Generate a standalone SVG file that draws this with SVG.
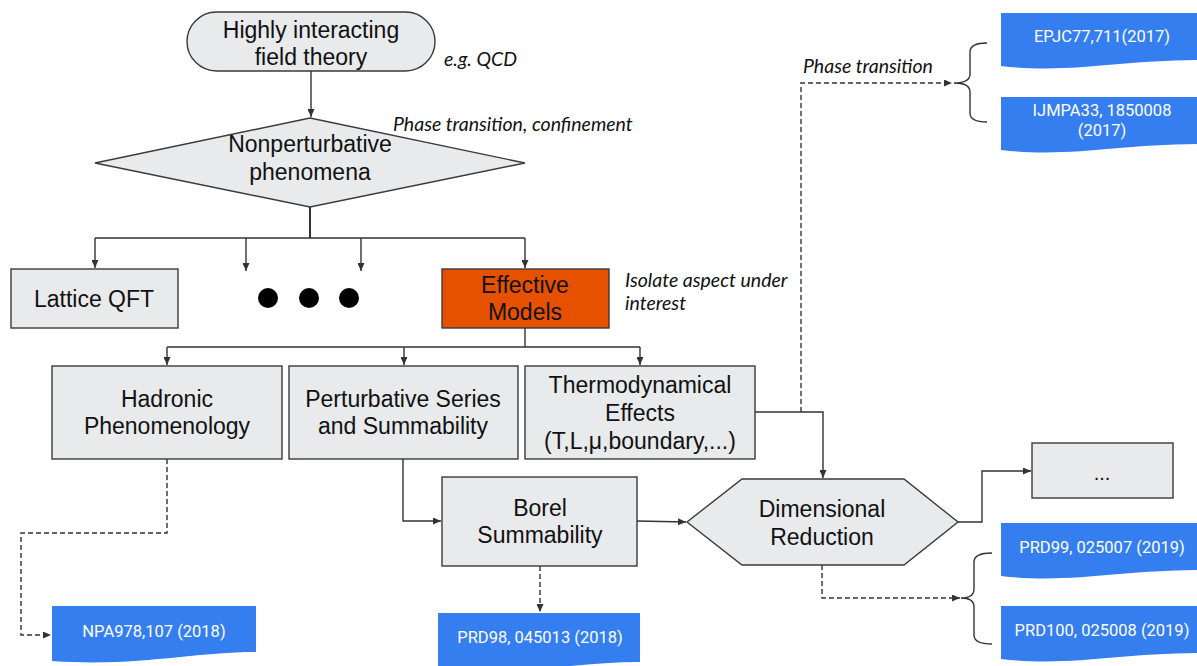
<svg xmlns="http://www.w3.org/2000/svg" width="1197" height="666" viewBox="0 0 1197 666">
<style>
.box{fill:#e8eaec;stroke:#3a3a3a;stroke-width:1.4}
.orange{fill:#e65100;stroke:#3a3a3a;stroke-width:1.4}
.doc{fill:#357ef0;stroke:none}
.lbl{font-family:"Liberation Sans",Arial,sans-serif;font-size:23px;fill:#111;text-anchor:middle}
.ref{font-family:Roboto,"Liberation Sans",sans-serif;font-size:16.5px;fill:#ffffff;text-anchor:middle}
.note{font-family:Lato,"Open Sans",sans-serif;font-style:italic;font-size:19.5px;fill:#111}
.ln{fill:none;stroke:#333;stroke-width:1.4}
.dash{fill:none;stroke:#333;stroke-width:1.4;stroke-dasharray:5 3}
.brace{fill:none;stroke:#333;stroke-width:1.4}
</style>
<defs>
<marker id="ah" markerUnits="userSpaceOnUse" markerWidth="9" markerHeight="7" refX="8" refY="3.5" orient="auto">
<path d="M0,0 L8,3.5 L0,7 z" fill="#333"/>
</marker>
</defs>

<g id="connectors">
<path class="ln" d="M311,71 V117" marker-end="url(#ah)"/>
<path class="ln" d="M310,207 V238" style="stroke-width:2"/>
<path class="ln" d="M95,238 H525"/>
<path class="ln" d="M95,238 V268" marker-end="url(#ah)"/>
<path class="ln" d="M246,238 V271" marker-end="url(#ah)"/>
<path class="ln" d="M361,238 V271" marker-end="url(#ah)"/>
<path class="ln" d="M525,238 V268" marker-end="url(#ah)"/>
<path class="ln" d="M525,328 V347"/>
<path class="ln" d="M167,347 H640"/>
<path class="ln" d="M167,347 V365" marker-end="url(#ah)"/>
<path class="ln" d="M404,347 V365" marker-end="url(#ah)"/>
<path class="ln" d="M640,347 V365" marker-end="url(#ah)"/>
<path class="ln" d="M755,412 H823 V478" marker-end="url(#ah)"/>
<path class="dash" d="M801,412 V83 H952" marker-end="url(#ah)"/>
<path class="ln" d="M403,459 V521 H441" marker-end="url(#ah)"/>
<path class="ln" d="M637,521 L686,522" marker-end="url(#ah)"/>
<path class="ln" d="M958,522 H982 V471 H1031" marker-end="url(#ah)"/>
<path class="dash" d="M822,565 V598 H960" marker-end="url(#ah)"/>
<path class="dash" d="M540,566 V612" marker-end="url(#ah)"/>
<path class="dash" d="M167,459 V533 H21 V635 H51" marker-end="url(#ah)"/>
<path class="brace" d="M987,43 Q970,43 970,52 V74 Q970,83 954,83 Q970,83 970,92 V113 Q970,122 987,122"/>
<path class="brace" d="M992,553 Q974,553 974,562 V589 Q974,598 961,598 Q974,598 974,607 V635 Q974,644 992,644"/>
</g>

<g id="n-highly">
<rect class="box" x="187" y="12" width="248" height="59" rx="29.5"/>
<text class="lbl" x="311" y="38">Highly interacting</text>
<text class="lbl" x="311" y="65">field theory</text>
</g>
<g id="note-qcd"><text class="note" x="444" y="66">e.g. QCD</text></g>

<g id="n-nonpert">
<polygon class="box" points="310,118 525,163 310,207 95,163"/>
<text class="lbl" x="310" y="152">Nonperturbative</text>
<text class="lbl" x="310" y="180">phenomena</text>
</g>
<g id="note-phase"><text class="note" x="393" y="131">Phase transition, confinement</text></g>

<g id="n-lattice">
<rect class="box" x="11" y="269" width="167" height="59"/>
<text class="lbl" x="94" y="307">Lattice QFT</text>
</g>

<g id="n-dots">
<circle cx="268" cy="298" r="10" fill="#000"/>
<circle cx="309" cy="298" r="10" fill="#000"/>
<circle cx="349" cy="298" r="10" fill="#000"/>
</g>

<g id="n-effective">
<rect class="orange" x="442" y="269" width="167" height="59"/>
<text class="lbl" x="525" y="293">Effective</text>
<text class="lbl" x="525" y="320">Models</text>
</g>
<g id="note-isolate">
<text class="note" x="625" y="287">Isolate aspect under</text>
<text class="note" x="625" y="310">interest</text>
</g>

<g id="n-hadronic">
<rect class="box" x="52" y="366" width="230" height="93"/>
<text class="lbl" x="167" y="407">Hadronic</text>
<text class="lbl" x="167" y="434">Phenomenology</text>
</g>

<g id="n-perturbative">
<rect class="box" x="289" y="366" width="229" height="93"/>
<text class="lbl" x="403" y="407">Perturbative Series</text>
<text class="lbl" x="403" y="434">and Summability</text>
</g>

<g id="n-thermo">
<rect class="box" x="525" y="366" width="230" height="93"/>
<text class="lbl" x="640" y="393">Thermodynamical</text>
<text class="lbl" x="640" y="421">Effects</text>
<text class="lbl" x="640" y="449">(T,L,μ,boundary,...)</text>
</g>

<g id="n-borel">
<rect class="box" x="442" y="477" width="195" height="89"/>
<text class="lbl" x="540" y="516">Borel</text>
<text class="lbl" x="540" y="543">Summability</text>
</g>

<g id="n-dimred">
<polygon class="box" points="687,522 742,479 904,479 958,522 904,565 742,565"/>
<text class="lbl" x="822" y="517">Dimensional</text>
<text class="lbl" x="822" y="545">Reduction</text>
</g>

<g id="n-more">
<rect class="box" x="1032" y="443" width="141" height="55"/>
<text class="lbl" x="1102" y="480" style="font-size:20px">...</text>
</g>

<g id="note-phase2"><text class="note" x="803" y="73">Phase transition</text></g>

<g id="r-epjc">
<path class="doc" d="M1001,13 H1200 V60 C1120,60 1070,74 1001,66 Z"/>
<text class="ref" x="1102" y="42">EPJC77,711(2017)</text>
</g>
<g id="r-ijmpa">
<path class="doc" d="M1001,97 H1200 V144 C1120,144 1070,158 1001,150 Z"/>
<text class="ref" x="1102" y="116">IJMPA33, 1850008</text>
<text class="ref" x="1102" y="136">(2017)</text>
</g>
<g id="r-prd99">
<path class="doc" d="M1001,523 H1200 V570 C1120,570 1070,584 1001,576 Z"/>
<text class="ref" x="1102" y="553">PRD99, 025007 (2019)</text>
</g>
<g id="r-prd100">
<path class="doc" d="M1001,606 H1200 V653 C1120,653 1070,667 1001,659 Z"/>
<text class="ref" x="1102" y="636">PRD100, 025008 (2019)</text>
</g>
<g id="r-npa">
<path class="doc" d="M52,606 H256 V652 C190,652 140,667 52,661 Z"/>
<text class="ref" x="154" y="637">NPA978,107 (2018)</text>
</g>
<g id="r-prd98">
<path class="doc" d="M438,613 H640 V662 C575,662 520,676 438,670 Z"/>
<text class="ref" x="540" y="643">PRD98, 045013 (2018)</text>
</g>
</svg>
